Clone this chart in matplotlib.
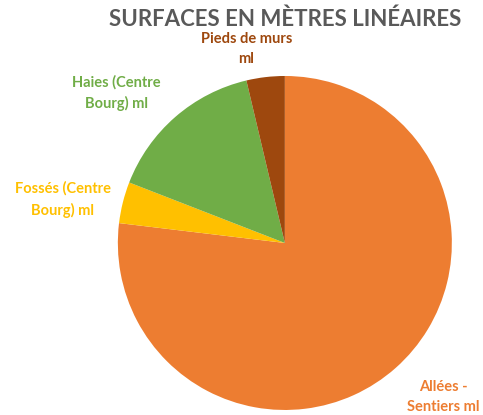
import matplotlib
matplotlib.use("Agg")
import matplotlib.pyplot as plt

plt.rcParams['font.family'] = ['Lato', 'DejaVu Sans']

# surfaces (parts en %), sens horaire depuis midi
categories = ["Allées -\nSentiers ml", "Fossés (Centre\nBourg) ml",
              "Haies (Centre\nBourg) ml", "Pieds de murs\nml"]
values = [76.9, 4.0, 15.4, 3.7]
colors = ["#ED7D31", "#FFC000", "#70AD47", "#9E480E"]
label_pos = [(0.95, -0.92), (-1.33, 0.26), (-1.01, 0.90), (-0.23, 1.16)]

fig = plt.figure(figsize=(4.83, 4.15), dpi=100)
ax = fig.add_axes([0.244, 0.012, 0.6915, 0.805])

ax.pie(values, colors=colors, startangle=90, counterclock=False,
       wedgeprops={'linewidth': 0})
ax.set_xlim(-1, 1)
ax.set_ylim(-1, 1)
ax.set_aspect('equal')

for name, col, (x, y) in zip(categories, colors, label_pos):
    ax.text(x, y, name, color=col, fontsize=10.5, fontweight='bold',
            ha='center', va='center', linespacing=1.55)

fig.text(0.59, 0.953, "SURFACES EN MÈTRES LINÉAIRES", color="#595959",
         fontsize=16, fontweight='bold', ha='center', va='center')

fig.savefig("out.png", dpi=100)
